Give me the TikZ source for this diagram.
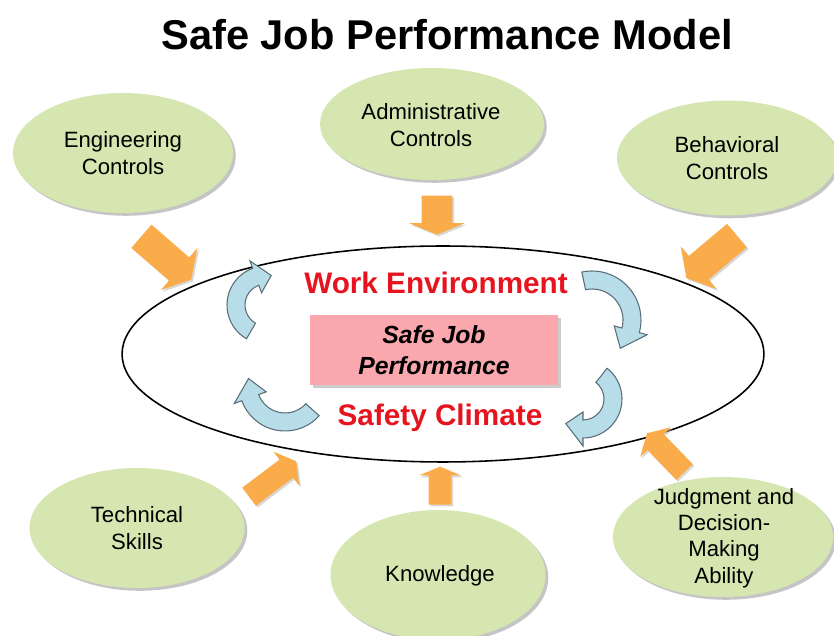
\documentclass[tikz,border=0pt]{standalone}
\usepackage{fontspec}
\setmainfont{Liberation Sans}
\usetikzlibrary{shapes, shapes.arrows, positioning, shadows}

\definecolor{leafgreen}{RGB}{214,230,176}
\definecolor{pushorange}{RGB}{250,172,75}
\definecolor{turnblue}{RGB}{183,222,232}
\definecolor{turnline}{RGB}{90,108,118}
\definecolor{corepink}{RGB}{250,168,174}
\definecolor{climred}{RGB}{230,20,30}

% curved arrow: centre x, centre y, start angle, end angle, tip angle, radius
\newcommand{\turnarrow}[6]{%
  \begin{scope}[shift={(#1,#2)}]
    \filldraw[turn] (#3:#6+9) arc[start angle=#3, end angle=#4, radius=#6+9]
      -- (#4:#6+17) -- (#5:#6) -- (#4:#6-17) -- (#4:#6-9)
      arc[start angle=#4, end angle=#3, radius=#6-9] -- cycle;
  \end{scope}}

\begin{document}
\begin{tikzpicture}[x=0.02cm, y=0.02cm,
    factor/.style={ellipse, fill=leafgreen, minimum width=4.4cm, minimum height=2.4cm,
      drop shadow={shadow xshift=1.6pt, shadow yshift=-1.6pt, fill=black!45}},
    factortext/.style={align=center, font=\fontsize{12.6}{15}\selectfont},
    push/.style={single arrow, fill=pushorange, inner xsep=0pt, single arrow tip angle=120,
      drop shadow={shadow xshift=1pt, shadow yshift=-1pt, fill=black!30}},
    bigpush/.style={push, inner ysep=0.3cm, single arrow head extend=0.25cm},
    smallpush/.style={push, inner ysep=0.22cm, single arrow head extend=0.2cm},
    turn/.style={fill=turnblue, draw=turnline, line width=0.6pt},
    redlabel/.style={text=climred, font=\fontsize{16.9}{20}\selectfont\bfseries}]
  \useasboundingbox (0,0) rectangle (834,635);

  \node (title) at (447,600) {\fontsize{23.7}{28}\selectfont\bfseries Safe Job Performance Model};

  \node (model)[ellipse, draw, line width=0.9pt, minimum width=12.84cm, minimum height=4.32cm] at (443,281) {};
  \node (core)[rectangle, fill=corepink, minimum width=4.96cm, minimum height=1.4cm, align=center,
    font=\fontsize{14.1}{18}\selectfont\bfseries\itshape,
    drop shadow={shadow xshift=1.5pt, shadow yshift=-1.5pt, fill=black!40}] at (434,285) {Safe Job\\Performance};
  \node (env)[redlabel] at (436,352) {Work Environment};
  \node (clim)[redlabel] at (440,217) {Safety Climate};

  \turnarrow{266}{330}{240}{110}{80}{30}
  \turnarrow{592}{315}{102}{-15}{-45}{40}
  \turnarrow{583}{236}{52}{-90}{-125}{30}
  \turnarrow{285}{250}{318}{200}{170}{37}

  \node (eng)[factor] at (123,482) {};
  \node (adm)[factor, minimum width=4.48cm, minimum height=2.24cm] at (432,511) {};
  \node (beh)[factor, minimum width=4.4cm, minimum height=2.3cm] at (727,477) {};
  \node (tech)[factor, minimum width=4.3cm] at (137,107) {};
  \node (know)[factor, minimum width=4.3cm, minimum height=2.6cm] at (438,60) {};
  \node (judg)[factor] at (723,98) {};

  \node (engtext)[factortext] at (eng) {Engineering\\Controls};
  \node (admtext)[factortext] at (431,510) {Administrative\\Controls};
  \node (behtext)[factortext] at (beh) {Behavioral\\Controls};
  \node (techtext)[factortext] at (tech) {Technical\\Skills};
  \node (knowtext)[factortext] at (440,59) {Knowledge};
  \node (judgtext)[factortext] at (724,97) {Judgment and\\Decision-\\Making\\Ability};

  \node (engpush)[bigpush, minimum height=1.32cm, rotate=-41] at (163,380) {};
  \node (admpush)[bigpush, minimum height=0.78cm, rotate=-90, single arrow tip angle=135] at (437,423) {};
  \node (behpush)[bigpush, minimum height=1.32cm, rotate=-140] at (715,381) {};
  \node (techpush)[smallpush, minimum height=1.18cm, rotate=37] at (270,154) {};
  \node (knowpush)[smallpush, minimum height=0.76cm, rotate=90, single arrow tip angle=135] at (440,147) {};
  \node (judgpush)[smallpush, minimum height=1.08cm, rotate=134] at (668,180) {};
\end{tikzpicture}
\end{document}
